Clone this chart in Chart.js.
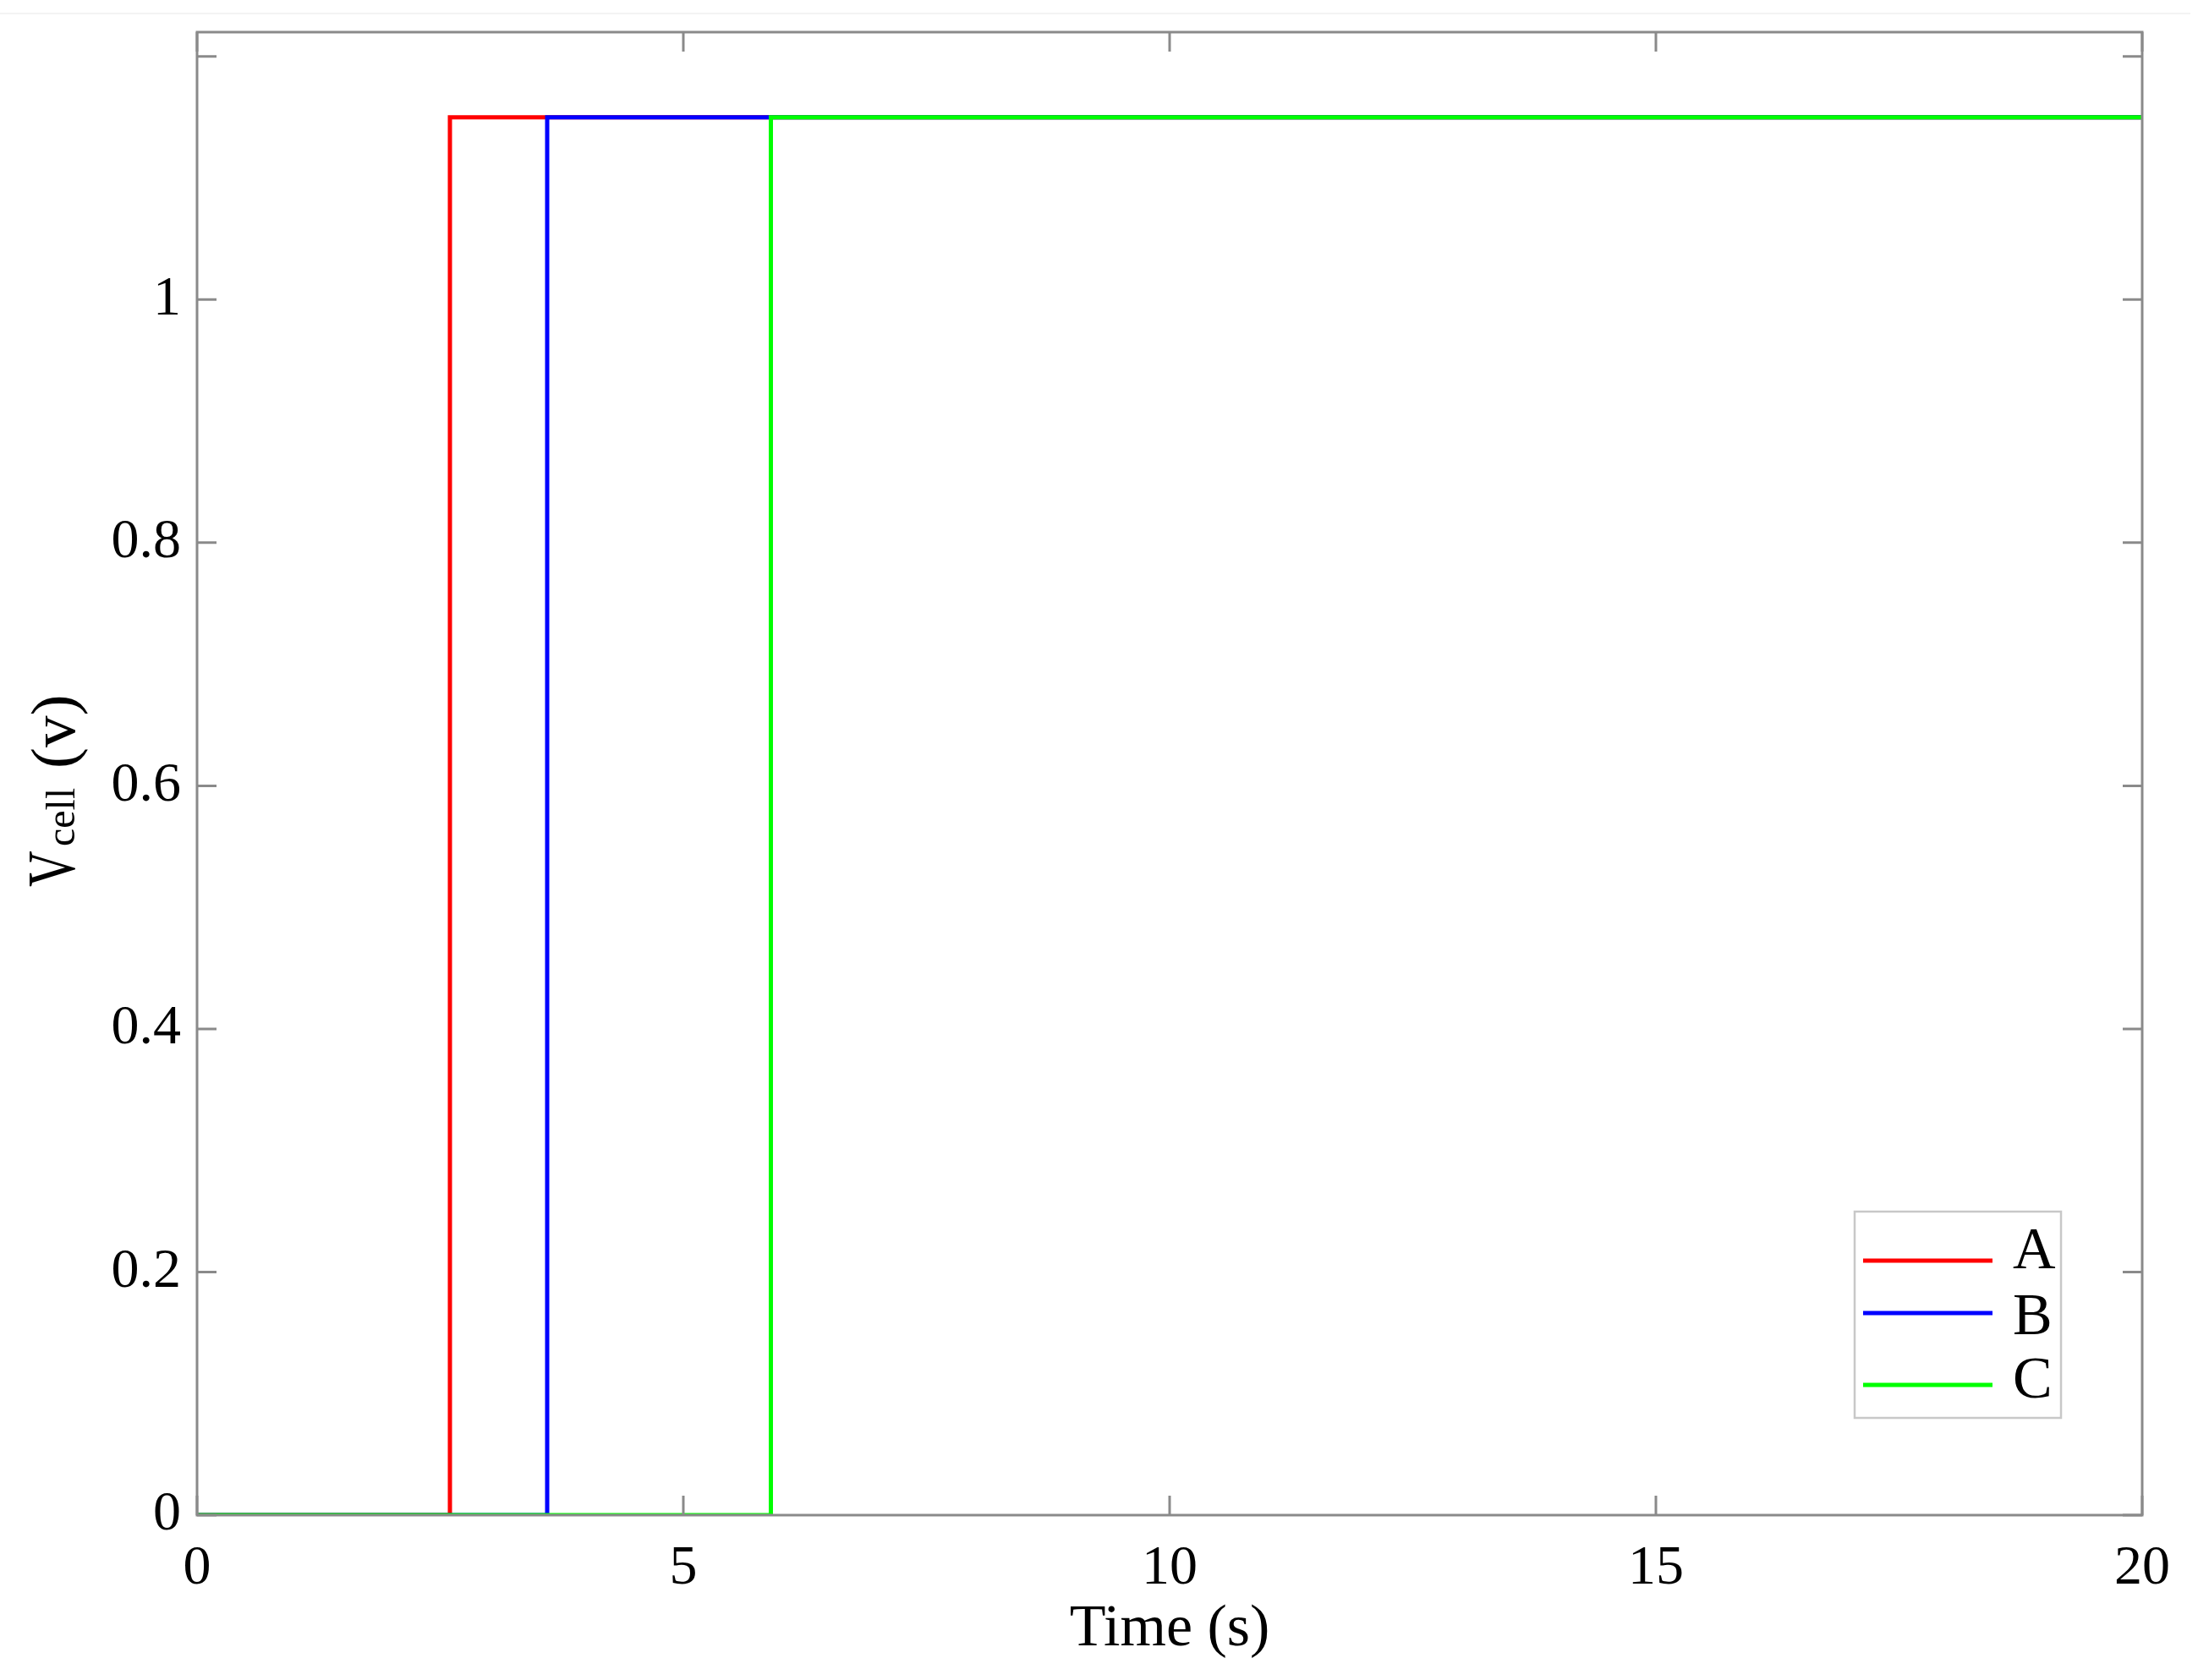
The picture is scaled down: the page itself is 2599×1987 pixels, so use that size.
<!DOCTYPE html>
<html>
<head>
<meta charset="utf-8">
<script src="https://cdn.jsdelivr.net/npm/chart.js@4/dist/chart.umd.min.js"></script>
<style>
html,body{margin:0;padding:0;background:#fff;}
#wrap{width:2599px;height:1987px;position:relative;}
</style>
</head>
<body>
<div id="wrap"><canvas id="c" width="2599" height="1987"></canvas></div>
<script>
// ---- data ----
const seriesLabels = ['A', 'B', 'C'];
const seriesColors = ['#ff0000', '#0000ff', '#00ff00'];
const timeA = [0, 2.6, 2.6, 20];
const voltA = [0, 0, 1.15, 1.15];
const timeB = [0, 3.6, 3.6, 20];
const voltB = [0, 0, 1.15, 1.15];
const timeC = [0, 5.9, 5.9, 20];
const voltC = [0, 0, 1.15, 1.15];
const xTicks = [0, 5, 10, 15, 20];
const yTicks = [0, 0.2, 0.4, 0.6, 0.8, 1, 1.2];
const yLabeled = [0, 0.2, 0.4, 0.6, 0.8, 1];

const toPts = (t, v) => t.map((x, i) => ({x: x, y: v[i]}));
const seriesData = [toPts(timeA, voltA), toPts(timeB, voltB), toPts(timeC, voltC)];

const SERIF = "'Liberation Serif', 'Times New Roman', serif";
const AXIS_GRAY = '#8a8a8a';

const framePlugin = {
  id: 'frame',
  beforeDraw(chart) {
    const ctx = chart.ctx;
    ctx.save();
    ctx.fillStyle = '#fff';
    ctx.fillRect(0, 0, chart.width, chart.height);
    ctx.strokeStyle = '#f3f3f3';
    ctx.lineWidth = 2;
    ctx.beginPath();
    ctx.moveTo(0, 16); ctx.lineTo(2590, 16);
    ctx.stroke();
    ctx.restore();
  },
  afterDraw(chart) {
    const ctx = chart.ctx;
    const a = chart.chartArea;
    const xs = chart.scales.x, ys = chart.scales.y;
    ctx.save();
    // frame
    ctx.strokeStyle = AXIS_GRAY;
    ctx.lineWidth = 3;
    ctx.strokeRect(a.left, a.top, a.right - a.left, a.bottom - a.top);
    // inward ticks
    const tl = 23;
    ctx.lineWidth = 3;
    ctx.beginPath();
    xTicks.forEach(v => {
      const px = xs.getPixelForValue(v);
      ctx.moveTo(px, a.bottom); ctx.lineTo(px, a.bottom - tl);
      ctx.moveTo(px, a.top); ctx.lineTo(px, a.top + tl);
    });
    yTicks.forEach(v => {
      const py = ys.getPixelForValue(v);
      ctx.moveTo(a.left, py); ctx.lineTo(a.left + tl, py);
      ctx.moveTo(a.right, py); ctx.lineTo(a.right - tl, py);
    });
    ctx.stroke();

    // y title: V_cell (v)
    ctx.fillStyle = '#000';
    ctx.translate(88, 1049);
    ctx.rotate(-Math.PI / 2);
    ctx.textBaseline = 'alphabetic';
    ctx.textAlign = 'left';
    ctx.save();
    ctx.scale(0.74, 1);
    ctx.font = '80px ' + SERIF;
    ctx.fillText('V', 0, 0);
    ctx.restore();
    ctx.font = '48px ' + SERIF;
    ctx.fillText('cell', 48, 0);
    ctx.font = '75px ' + SERIF;
    ctx.fillText('(v)', 140, 0);
    ctx.restore();

    // legend
    ctx.save();
    const lx = a.right - 340, ly = a.bottom - 359;
    const lw = 244, lh = 244;
    ctx.fillStyle = '#fff';
    ctx.fillRect(lx, ly, lw, lh);
    ctx.strokeStyle = '#c8c8c8';
    ctx.lineWidth = 2.5;
    ctx.strokeRect(lx, ly, lw, lh);
    const rowLineY = [58, 120, 205];
    const rowTextY = [67, 145, 220];
    ctx.font = '70px ' + SERIF;
    ctx.textBaseline = 'alphabetic';
    ctx.textAlign = 'left';
    seriesLabels.forEach((lab, i) => {
      ctx.strokeStyle = seriesColors[i];
      ctx.lineWidth = 5;
      ctx.beginPath();
      ctx.moveTo(lx + 10, ly + rowLineY[i]);
      ctx.lineTo(lx + 163, ly + rowLineY[i]);
      ctx.stroke();
      ctx.fillStyle = '#000';
      ctx.fillText(lab, lx + 187, ly + rowTextY[i]);
    });
    ctx.restore();
  }
};

new Chart(document.getElementById('c'), {
  type: 'line',
  data: {
    datasets: seriesLabels.map((lab, i) => ({
      label: lab,
      data: seriesData[i],
      borderColor: seriesColors[i],
      backgroundColor: seriesColors[i],
      borderWidth: 5,
      pointRadius: 0,
      tension: 0,
      fill: false,
      order: 3 - i
    }))
  },
  options: {
    responsive: false,
    animation: false,
    devicePixelRatio: 1,
    layout: { padding: { top: 38, right: 66, left: 0, bottom: 0 } },
    plugins: { legend: { display: false }, tooltip: { enabled: false } },
    scales: {
      x: {
        type: 'linear',
        min: 0, max: 20,
        grid: { display: false },
        border: { display: false },
        afterBuildTicks(s) { s.ticks = xTicks.map(v => ({value: v})); },
        afterFit(s) { s.height = 195; s.paddingLeft = 0; s.paddingRight = 0; },
        ticks: {
          font: { family: SERIF, size: 66 },
          color: '#000',
          padding: 16,
          maxRotation: 0,
          callback: v => String(v)
        },
        title: {
          display: true,
          text: 'Time (s)',
          font: { family: SERIF, size: 70 },
          color: '#000',
          padding: { top: 0, bottom: 17 }
        }
      },
      y: {
        type: 'linear',
        min: 0, max: 1.22,
        grid: { display: false },
        border: { display: false },
        afterBuildTicks(s) { s.ticks = yTicks.map(v => ({value: v})); },
        afterFit(s) { s.width = 233; s.paddingTop = 0; s.paddingBottom = 0; },
        ticks: {
          font: { family: SERIF, size: 66 },
          color: '#000',
          padding: 11,
          callback: v => (yLabeled.some(t => Math.abs(t - v) < 1e-9) ? String(Math.round(v * 10) / 10) : '')
        }
      }
    }
  },
  plugins: [framePlugin]
});
</script>
</body>
</html>
